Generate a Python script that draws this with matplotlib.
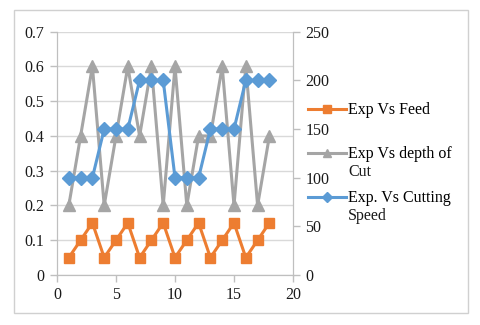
import matplotlib.pyplot as plt
from matplotlib.patches import Rectangle

# Experiment number
runs = list(range(1, 19))

# Feed and depth of cut (left axis), cutting speed (right axis)
feed = [0.05, 0.1, 0.15, 0.05, 0.1, 0.15, 0.05, 0.1, 0.15,
        0.05, 0.1, 0.15, 0.05, 0.1, 0.15, 0.05, 0.1, 0.15]
depth_of_cut = [0.2, 0.4, 0.6, 0.2, 0.4, 0.6, 0.4, 0.6, 0.2,
                0.6, 0.2, 0.4, 0.4, 0.6, 0.2, 0.6, 0.2, 0.4]
cutting_speed = [100, 100, 100, 150, 150, 150, 200, 200, 200,
                 100, 100, 100, 150, 150, 150, 200, 200, 200]

# legend labels, first line and wrapped remainder
labels = ["Exp Vs Feed", "Exp Vs depth of", "Exp. Vs Cutting"]
wrapped = ["", "Cut", "Speed"]

plt.rcParams['font.family'] = ['Liberation Serif', 'DejaVu Serif']
plt.rcParams['font.size'] = 11

fig = plt.figure(figsize=(4.8, 3.25), dpi=100)
fig.patches.append(Rectangle((14 / 480, 12 / 325), 454 / 480, 303 / 325,
                             transform=fig.transFigure, fill=False,
                             edgecolor='#d0d0d0', linewidth=1))

ax = fig.add_axes([57 / 480, 50 / 325, 236 / 480, 243.3 / 325])
ax2 = ax.twinx()

grid_c = '#d9d9d9'
axis_c = '#bfbfbf'

l1, = ax.plot(runs, feed, color='#ED7D31', marker='s', markersize=7.5,
              linewidth=2.2, label=labels[0], zorder=3)
l2, = ax.plot(runs, depth_of_cut, color='#A5A5A5', marker='^', markersize=8,
              linewidth=2.2, label=labels[1], zorder=3)
l3, = ax2.plot(runs, cutting_speed, color='#5B9BD5', marker='D', markersize=7,
               linewidth=2.2, label=labels[2], zorder=3)

ax.set_xlim(0, 20)
ax.set_ylim(0, 0.7)
ax.set_xticks([0, 5, 10, 15, 20])
ax.set_yticks([i / 10 for i in range(8)])
ax.set_yticklabels(['0', '0.1', '0.2', '0.3', '0.4', '0.5', '0.6', '0.7'])
ax2.set_ylim(0, 250)
ax2.set_yticks([0, 50, 100, 150, 200, 250])

ax.grid(axis='y', color=grid_c, linewidth=1)
ax.set_axisbelow(True)

for a in (ax, ax2):
    a.spines['top'].set_visible(False)
    for side in ('left', 'right', 'bottom'):
        a.spines[side].set_color(axis_c)
    a.tick_params(colors=axis_c, labelcolor='#1a1a1a', length=5, width=1,
                  labelsize=11.5)
ax.tick_params(axis='y', pad=4)
ax2.tick_params(axis='y', pad=4)

leg = fig.legend([l1, l2, l3], labels, loc='upper left',
                 bbox_to_anchor=(302 / 480, 1 - 96 / 325), frameon=False,
                 handlelength=2.35, handletextpad=0.15, labelspacing=1.75,
                 borderaxespad=0, fontsize=11.5, markerscale=0.75)

# wrapped second lines of the legend entries
fig.canvas.draw()
renderer = fig.canvas.get_renderer()
for txt, extra in zip(leg.get_texts(), wrapped):
    if not extra:
        continue
    bb = txt.get_window_extent(renderer)
    fig.text(bb.x0 / fig.bbox.width, (bb.y0 - 18) / fig.bbox.height, extra,
             fontsize=11.5, color='#1a1a1a', ha='left', va='bottom')

fig.savefig('out.png', dpi=100)
